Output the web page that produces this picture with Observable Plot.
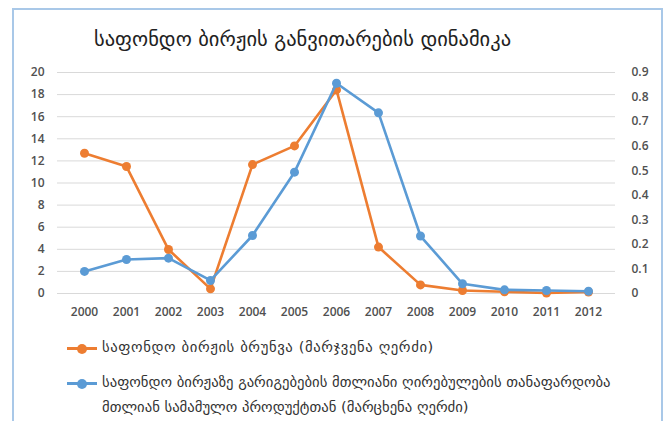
<!DOCTYPE html>
<html>
<head>
<meta charset="utf-8">
<script src="https://cdn.jsdelivr.net/npm/d3@7"></script>
<script src="https://cdn.jsdelivr.net/npm/@observablehq/plot@0.6"></script>
<style>
  html, body { margin: 0; padding: 0; background: #fff; }
  body { width: 667px; height: 421px; position: relative; overflow: hidden; font-family: "DejaVu Sans", sans-serif; }
  #frame { position: absolute; left: 12px; top: 8px; width: 651px; height: 440px; border: 2px solid #a9c8e8; box-sizing: border-box; }
  #title { position: absolute; left: 94px; top: 27px; font-size: 20.5px; color: #222; white-space: nowrap; }
  #chart { position: absolute; left: 0; top: 0; }
  .leg { position: absolute; font-size: 14.7px; color: #333; white-space: nowrap; }
  .sw { position: absolute; width: 30px; height: 3px; }
  .sw::after { content: ""; position: absolute; left: 10px; top: -3.5px; width: 10px; height: 10px; border-radius: 50%; background: inherit; }
</style>
</head>
<body>
<div id="frame"></div>
<div id="chart"></div>
<div id="title">საფონდო ბირჟის განვითარების დინამიკა</div>
<div class="sw" style="left:67px; top:347px; background:#ED7D31"></div>
<div class="leg" style="left:102px; top:338px; letter-spacing:0.6px;">საფონდო ბირჟის ბრუნვა  (მარჯვენა ღერძი)</div>
<div class="sw" style="left:67px; top:382px; background:#5B9BD5"></div>
<div class="leg" style="left:102px; top:373px;">საფონდო ბირჟაზე გარიგებების მთლიანი ღირებულების თანაფარდობა</div>
<div class="leg" style="left:102px; top:398px;">მთლიან სამამულო პროდუქტთან (მარცხენა ღერძი)</div>
<script>
const years = [2000, 2001, 2002, 2003, 2004, 2005, 2006, 2007, 2008, 2009, 2010, 2011, 2012];
// Stock exchange turnover (right axis)
const turnover = [0.571, 0.517, 0.179, 0.019, 0.525, 0.601, 0.829, 0.189, 0.035, 0.012, 0.007, 0.002, 0.006];
// Ratio of total value of transactions to GDP (left axis)
const ratio = [2.0, 3.08, 3.2, 1.18, 5.25, 10.98, 19.03, 16.35, 5.2, 0.88, 0.33, 0.27, 0.21];
const leftTicks = [0, 2, 4, 6, 8, 10, 12, 14, 16, 18, 20];
const rightTicks = [0, 0.1, 0.2, 0.3, 0.4, 0.5, 0.6, 0.7, 0.8, 0.9];
const leftMax = 20, rightMax = 0.9;
const k = leftMax / rightMax;

const data = years.map((y, i) => ({ year: String(y), turnover: turnover[i], ratio: ratio[i] }));
const orange = "#ED7D31", blue = "#5B9BD5";

const chart = Plot.plot({
  width: 667,
  height: 330,
  marginTop: 72,
  marginBottom: 37,
  marginLeft: 57,
  marginRight: 52,
  style: { fontFamily: "'Open Sans', sans-serif", fontSize: "12px", fontWeight: 600, color: "#505050", background: "transparent" },
  x: { type: "point", domain: years.map(String), padding: 0.5 },
  y: { domain: [0, leftMax] },
  marks: [
    Plot.gridY(leftTicks, { stroke: "#d9d9d9", strokeOpacity: 1, strokeWidth: 1 }),
    Plot.axisX({ tickSize: 0, tickPadding: 14, label: null }),
    Plot.axisY(leftTicks, { anchor: "left", tickSize: 0, tickPadding: 13, label: null }),
    Plot.axisY(rightTicks.map(v => v * k), {
      anchor: "right", tickSize: 0, tickPadding: 16, label: null,
      tickFormat: v => { const r = Math.round(v / k * 10) / 10; return r === 0 ? "0" : r.toFixed(1); }
    }),
    Plot.line(data, { x: "year", y: d => d.turnover * k, stroke: orange, strokeWidth: 2.6 }),
    Plot.dot(data, { x: "year", y: d => d.turnover * k, fill: orange, r: 4.5 }),
    Plot.line(data, { x: "year", y: "ratio", stroke: blue, strokeWidth: 2.6 }),
    Plot.dot(data, { x: "year", y: "ratio", fill: blue, r: 4.5 })
  ]
});
document.getElementById("chart").appendChild(chart);
</script>
</body>
</html>
